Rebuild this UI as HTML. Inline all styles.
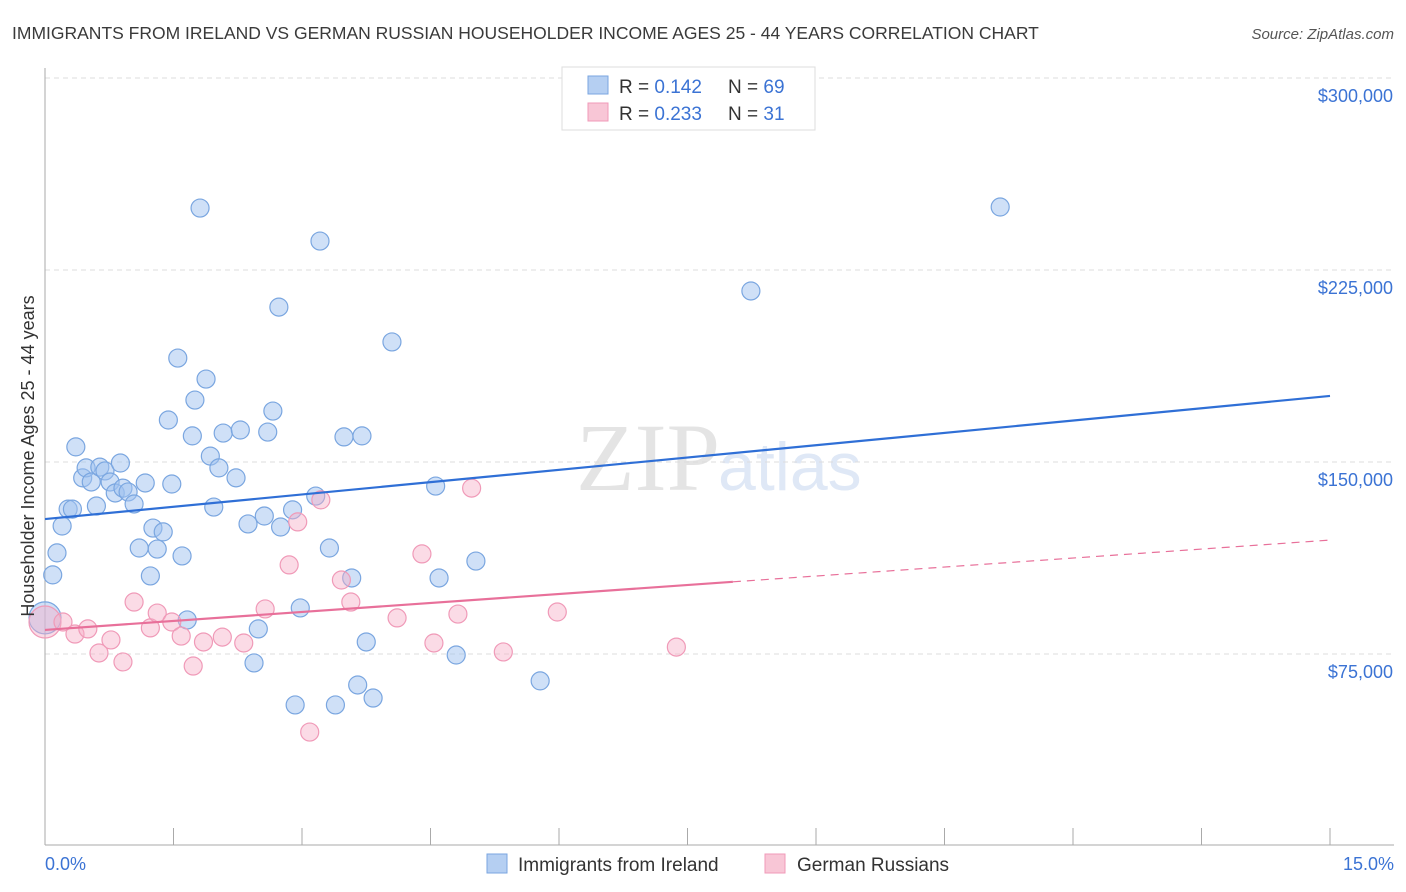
<!DOCTYPE html>
<html><head><meta charset="utf-8"><style>
body{margin:0;background:#fff;font-family:"Liberation Sans",sans-serif;}
#wrap{position:relative;width:1406px;height:892px;overflow:hidden;}
</style></head><body>
<div id="wrap">
<svg id="svg" width="1406" height="892" xmlns="http://www.w3.org/2000/svg">
<text x="12" y="39" font-size="17.5" fill="#3a3a3a">IMMIGRANTS FROM IRELAND VS GERMAN RUSSIAN HOUSEHOLDER INCOME AGES 25 - 44 YEARS CORRELATION CHART</text>
<text x="1394" y="39" font-size="15" fill="#555" text-anchor="end" font-style="italic">Source: ZipAtlas.com</text>
<text x="720" y="490" font-size="96" fill="#e4e4e4" text-anchor="end" font-family="Liberation Serif">ZIP</text>
<text x="718" y="490" font-size="68" fill="#dfe8f6">atlas</text>
<g id="grid"></g>
<g id="axes"></g>
<g id="marks"></g>
<text transform="translate(34,456) rotate(-90)" font-size="18" fill="#333" text-anchor="middle">Householder Income Ages 25 - 44 years</text>
<text x="45" y="870" font-size="18" fill="#3b73d4">0.0%</text>
<text x="1394" y="870" font-size="18" fill="#3b73d4" text-anchor="end">15.0%</text>
<g>
<rect x="562" y="67" width="253" height="63" fill="#fff" stroke="#ddd"/>
<rect x="588" y="76" width="20" height="18" fill="#b5cff2" stroke="#7aa6e0"/>
<rect x="588" y="103" width="20" height="18" fill="#f8c6d6" stroke="#f09ab8"/>
<text x="619" y="93" font-size="19" fill="#333">R = <tspan fill="#3b73d4">0.142</tspan><tspan x="728">N = </tspan><tspan fill="#3b73d4">69</tspan></text>
<text x="619" y="120" font-size="19" fill="#333">R = <tspan fill="#3b73d4">0.233</tspan><tspan x="728">N = </tspan><tspan fill="#3b73d4"> 31</tspan></text>
</g>
<g>
<rect x="487" y="854" width="20" height="19" fill="#b5cff2" stroke="#7aa6e0"/>
<text x="518" y="871" font-size="19" fill="#333">Immigrants from Ireland</text>
<rect x="765" y="854" width="20" height="19" fill="#f8c6d6" stroke="#f09ab8"/>
<text x="797" y="871" font-size="19" fill="#333">German Russians</text>
</g>
</svg>
</div>
<script>
const yTicks=[75000,150000,225000,300000];
const yTickLabels=["$75,000","$150,000","$225,000","$300,000"];
const xTicks=[0,1.5,3,4.5,6,7.5,9,10.5,12,13.5,15];
const irelandX=[0.00,0.09,0.14,0.20,0.27,0.32,0.36,0.44,0.48,0.54,0.60,0.64,0.70,0.76,0.82,0.88,0.91,0.97,1.04,1.10,1.17,1.23,1.26,1.31,1.38,1.44,1.48,1.55,1.60,1.66,1.72,1.75,1.81,1.88,1.93,1.97,2.03,2.08,2.23,2.28,2.37,2.44,2.49,2.56,2.60,2.66,2.73,2.75,2.89,2.92,2.98,3.16,3.21,3.32,3.39,3.49,3.58,3.65,3.70,3.75,3.83,4.05,4.56,4.60,4.80,5.03,5.78,8.24,11.15];
const irelandY=[89100,105900,114500,125000,131600,131600,155900,143800,147700,142200,132800,148000,146500,142200,137900,149600,139800,138300,133600,116400,141800,105500,124200,116000,122700,166400,141400,190600,113300,88300,160200,174200,249200,182400,152300,132400,147700,161300,143800,162500,125800,71500,84800,128900,161700,169900,210500,124600,131300,55100,93000,136700,236300,116400,55100,159800,104700,62900,160200,79700,57800,196900,140600,104700,74600,111300,64500,216800,249600];
const germanX=[0.00,0.21,0.35,0.50,0.63,0.77,0.91,1.04,1.23,1.31,1.48,1.59,1.73,1.85,2.07,2.32,2.57,2.85,2.95,3.09,3.22,3.46,3.57,4.11,4.40,4.54,4.82,4.98,5.35,5.98,7.37];
const germanY=[87500,87500,82800,84800,75400,80500,71900,95300,85200,91000,87500,82000,70300,79700,81600,79300,92600,109800,126600,44500,135200,103900,95300,89100,114100,79300,90600,139800,75800,91400,77700];
const irelandTrend=[127700,175800];
const germanTrend=[84400,119500];
const germanSolidEnd=8.03;

const X0=45,X1=1330,Y75=654,PXPER=192/75000;
const xs=v=>X0+(v/15)*(X1-X0);
const ys=v=>Y75-(v-75000)*PXPER;
const NS="http://www.w3.org/2000/svg";
function mk(tag,attrs,parent){const e=document.createElementNS(NS,tag);for(const k in attrs)e.setAttribute(k,attrs[k]);parent.appendChild(e);return e;}
const grid=document.getElementById('grid'),axes=document.getElementById('axes'),marks=document.getElementById('marks');
yTicks.forEach((t,i)=>{
  const l=mk('line',{x1:45,x2:1394,y1:ys(t),y2:ys(t),stroke:'#ddd','stroke-dasharray':'5,4'},grid);
  
  
  const tx=mk('text',{x:1393,y:ys(t)+24,'font-size':18,fill:'#3b73d4','text-anchor':'end'},axes);
  tx.textContent=yTickLabels[i];
  
  
});
const ax=mk('line',{x1:45,x2:45,y1:68,y2:845,stroke:'#aaa'},axes);


const bx=mk('line',{x1:45,x2:1394,y1:845,y2:845,stroke:'#aaa'},axes);


xTicks.forEach(t=>{
  const l=mk('line',{x1:xs(t),x2:xs(t),y1:828,y2:845,stroke:'#aaa'},axes);
  
  
});
function dots(X,Y,fill,stroke,name){
  X.forEach((x,i)=>{
    const r=(x===0)?16:9;
    const c=mk('circle',{cx:xs(x),cy:ys(Y[i]),r:r,fill:fill,stroke:stroke,'stroke-width':1.2},marks);
    
    
  });
}
dots(irelandX,irelandY,'rgba(160,194,240,0.5)','#7aa6e0','ireland-point');
dots(germanX,germanY,'rgba(246,176,200,0.45)','#f09ab8','german-russian-point');
const gAt=x=>germanTrend[0]+(germanTrend[1]-germanTrend[0])*x/15;
const t1=mk('line',{x1:xs(0),y1:ys(irelandTrend[0]),x2:xs(15),y2:ys(irelandTrend[1]),stroke:'#2f6fd6','stroke-width':2.2},marks);


const t2=mk('line',{x1:xs(0),y1:ys(gAt(0)),x2:xs(germanSolidEnd),y2:ys(gAt(germanSolidEnd)),stroke:'#e8709a','stroke-width':2.2},marks);


const t3=mk('line',{x1:xs(germanSolidEnd),y1:ys(gAt(germanSolidEnd)),x2:xs(15),y2:ys(gAt(15)),stroke:'#e8709a','stroke-width':1.2,'stroke-dasharray':'8,6'},marks);


</script>
</body></html>
